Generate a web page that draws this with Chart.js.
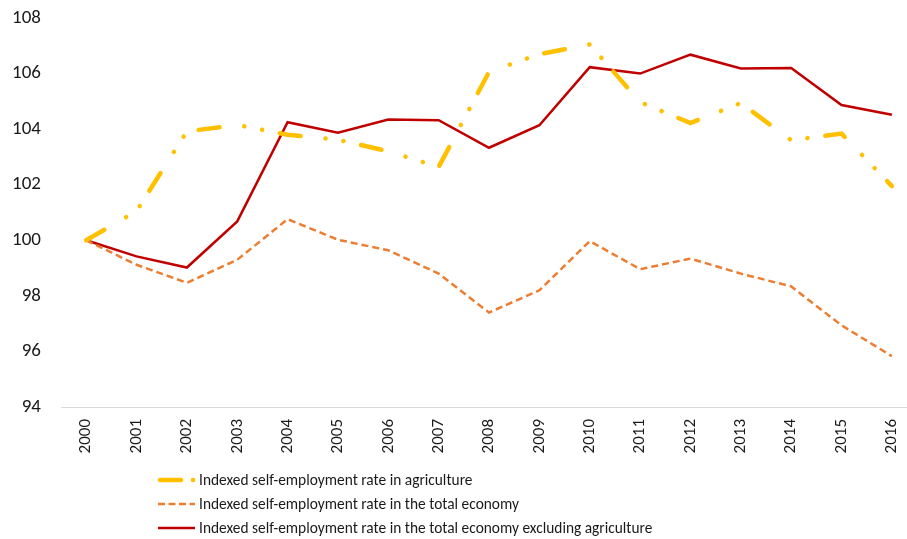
<!DOCTYPE html>
<html><head><meta charset="utf-8">
<script src="https://cdn.jsdelivr.net/npm/chart.js@4/dist/chart.umd.min.js"></script>
<style>html,body{margin:0;padding:0;background:#fff;overflow:hidden}#wrap{width:907px;height:539px;position:relative}</style>
</head><body><div id="wrap"><canvas id="c" width="907" height="539"></canvas></div>
<script>
const years = [2000,2001,2002,2003,2004,2005,2006,2007,2008,2009,2010,2011,2012,2013,2014,2015,2016];
const agriculture = [100,101.05,103.92,104.15,103.8,103.62,103.2,102.64,106.06,106.7,107.05,104.97,104.22,104.94,103.6,103.84,101.95];
const totalEconomy = [100,99.12,98.47,99.3,100.76,100.02,99.64,98.8,97.4,98.2,99.97,98.96,99.34,98.8,98.34,96.94,95.83];
const totalExclAgri = [100,99.42,99.02,100.68,104.25,103.87,104.35,104.32,103.33,104.14,106.23,106.0,106.68,106.18,106.2,104.87,104.52];
const yTicks = [94,96,98,100,102,104,106,108];
const seriesNames = [
  'Indexed self-employment rate in agriculture',
  'Indexed self-employment rate in the total economy',
  'Indexed self-employment rate in the total economy excluding agriculture'
];

const FONT = 'Carlito, Calibri, Lato, sans-serif';
const toPts = arr => arr.map((v, i) => ({x: years[i], y: v}));

const legendPlugin = {
  id: 'stackedLegend',
  afterDraw(chart) {
    const ctx = chart.ctx;
    const x0 = 158, x1 = 195, tx = 199;
    const rows = [480, 504, 528];
    ctx.save();
    ctx.font = '15.4px ' + FONT;
    ctx.fillStyle = '#1a1a1a';
    ctx.textBaseline = 'middle';
    ctx.textAlign = 'left';
    chart.data.datasets.forEach((ds, i) => {
      const y = rows[i];
      ctx.beginPath();
      ctx.strokeStyle = ds.borderColor;
      ctx.lineWidth = ds.borderWidth;
      ctx.lineCap = ds.borderCapStyle || 'butt';
      if (i === 0) { ctx.setLineDash([21, 12, 0.1, 100]); ctx.moveTo(x0 + 2, y); ctx.lineTo(x1, y); }
      else if (i === 1) { ctx.setLineDash([7, 3.5]); ctx.moveTo(x0, y); ctx.lineTo(x1, y); }
      else { ctx.setLineDash([]); ctx.moveTo(x0, y); ctx.lineTo(x1, y); }
      ctx.stroke();
      ctx.setLineDash([]);
      ctx.fillText(ds.label, tx, y + 1);
    });
    ctx.restore();
  }
};

new Chart(document.getElementById('c'), {
  type: 'line',
  data: {
    datasets: [
      {label: seriesNames[0], data: toPts(agriculture), borderColor: '#FFC000', borderWidth: 4.5,
       borderDash: [21, 25, 0.1, 18, 0.1, 18], borderCapStyle: 'round', pointRadius: 0, tension: 0, fill: false},
      {label: seriesNames[1], data: toPts(totalEconomy), borderColor: '#ED7D31', borderWidth: 2.5,
       borderDash: [7, 4], borderCapStyle: 'butt', pointRadius: 0, tension: 0, fill: false},
      {label: seriesNames[2], data: toPts(totalExclAgri), borderColor: '#C00000', borderWidth: 2.5,
       borderCapStyle: 'butt', pointRadius: 0, tension: 0, fill: false}
    ]
  },
  options: {
    responsive: false,
    animation: false,
    devicePixelRatio: 1,
    layout: {padding: {top: 18, right: 0, bottom: 0, left: 0}},
    plugins: {legend: {display: false}, tooltip: {enabled: false}},
    scales: {
      x: {
        type: 'linear', min: 1999.5, max: 2016.3,
        afterBuildTicks: s => { s.ticks = years.map(v => ({value: v})); },
        afterFit: s => { s.height = 539 - 407; s.paddingLeft = 0; s.paddingRight = 0; },
        grid: {display: false, drawTicks: false},
        border: {display: true, color: '#d9d9d9', width: 1},
        ticks: {autoSkip: false, maxRotation: 90, minRotation: 90, padding: 12,
          font: {family: FONT, size: 17}, color: '#1a1a1a', callback: v => String(v)}
      },
      y: {
        min: 94, max: 108,
        afterBuildTicks: s => { s.ticks = yTicks.map(v => ({value: v})); },
        afterFit: s => { s.width = 61; s.paddingTop = 0; s.paddingBottom = 0; },
        grid: {display: false, drawTicks: false},
        border: {display: false},
        ticks: {padding: 20, font: {family: FONT, size: 19}, color: '#1a1a1a', callback: v => String(v)}
      }
    }
  },
  plugins: [legendPlugin]
});
</script></body></html>
